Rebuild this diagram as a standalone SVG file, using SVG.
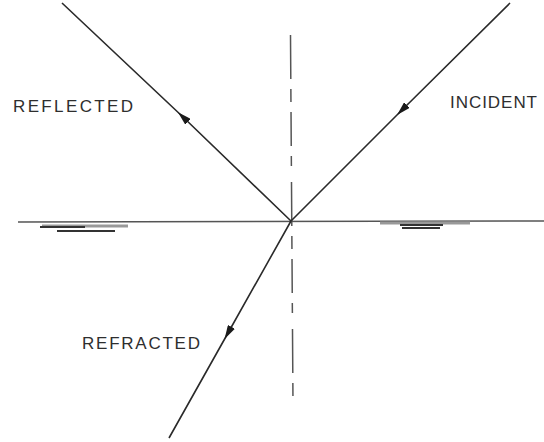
<svg xmlns="http://www.w3.org/2000/svg" width="544" height="442" viewBox="0 0 544 442">
<style>
.ray{fill:none;stroke:#2a2a2a;stroke-width:1.6;marker-mid:url(#arr)}
.lbl{font-family:"Liberation Sans",Arial,sans-serif;font-size:17px;fill:#2e2e2e}
.surf{stroke:#555;stroke-width:1.6;fill:none}
.water{stroke:#333;stroke-width:2;fill:none}
.waterl{stroke:#999;stroke-width:3;fill:none}
</style>
<defs>
<marker id="arr" viewBox="0 0 14 8" refX="7" refY="4" markerWidth="14" markerHeight="8" markerUnits="userSpaceOnUse" orient="auto">
<path d="M0,0 L14,4 L0,8 Z" fill="#1a1a1a"/>
</marker>
</defs>
<rect width="544" height="442" fill="#fff"/>
<g id="surface">
<line class="surf" x1="18" y1="222" x2="544" y2="221"/>
<line class="waterl" x1="42" y1="226" x2="128" y2="226"/>
<line class="water" x1="40" y1="227" x2="85" y2="227"/>
<line class="water" x1="57" y1="231" x2="115" y2="231" stroke-width="1.6"/>
<line class="waterl" x1="380" y1="223" x2="470" y2="223"/>
<line class="water" x1="400" y1="225" x2="443" y2="225"/>
<line class="water" x1="402" y1="228" x2="440" y2="228" stroke-width="1.4"/>
</g>
<g id="normal">
<line x1="290.5" y1="35" x2="293" y2="404" stroke="#555" stroke-width="1.5" stroke-dasharray="44 10 13 10 34 10 10 16"/>
</g>
<g id="connectors">
<path id="incident" class="ray" d="M510,3 L402,110 L291,221"/>
<path id="reflected" class="ray" d="M291,221 L183,117 L62,3"/>
<path id="refracted" class="ray" d="M291,221 L228,333 L169,438"/>
</g>
<g id="reflected-label"><text class="lbl" x="13" y="112" textLength="120" lengthAdjust="spacing">REFLECTED</text></g>
<g id="incident-label"><text class="lbl" x="450" y="108" textLength="87" lengthAdjust="spacing">INCIDENT</text></g>
<g id="refracted-label"><text class="lbl" x="82" y="349" textLength="118" lengthAdjust="spacing">REFRACTED</text></g>
</svg>
